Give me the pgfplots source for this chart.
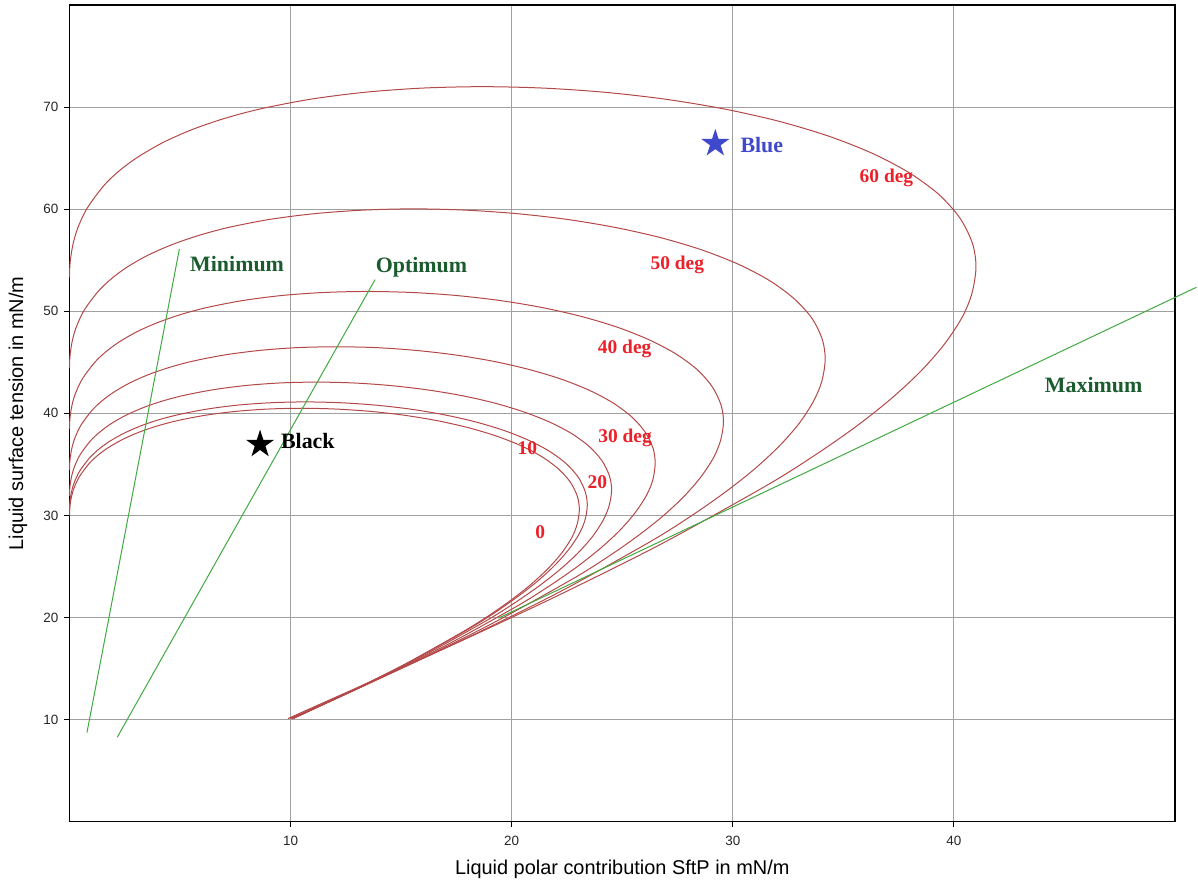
\documentclass[border=0pt]{standalone}
\usepackage{fontspec}
\setmainfont{Liberation Serif}
\setsansfont{Liberation Sans}
\usepackage{pgfplots}
\pgfplotsset{compat=1.18}

\definecolor{envcol}{RGB}{180,72,72}
\definecolor{linegreen}{RGB}{64,170,64}
\definecolor{textgreen}{RGB}{26,92,46}
\definecolor{labelred}{RGB}{235,32,40}
\definecolor{starblue}{RGB}{64,72,204}
\definecolor{gridgray}{RGB}{160,160,160}

% filled five-pointed star
\pgfdeclareplotmark{fstar}{%
  \pgfpathmoveto{\pgfpointpolar{90}{\pgfplotmarksize}}%
  \pgfpathlineto{\pgfpointpolar{126}{0.382\pgfplotmarksize}}%
  \pgfpathlineto{\pgfpointpolar{162}{\pgfplotmarksize}}%
  \pgfpathlineto{\pgfpointpolar{198}{0.382\pgfplotmarksize}}%
  \pgfpathlineto{\pgfpointpolar{234}{\pgfplotmarksize}}%
  \pgfpathlineto{\pgfpointpolar{270}{0.382\pgfplotmarksize}}%
  \pgfpathlineto{\pgfpointpolar{306}{\pgfplotmarksize}}%
  \pgfpathlineto{\pgfpointpolar{342}{0.382\pgfplotmarksize}}%
  \pgfpathlineto{\pgfpointpolar{18}{\pgfplotmarksize}}%
  \pgfpathlineto{\pgfpointpolar{54}{0.382\pgfplotmarksize}}%
  \pgfpathclose
  \pgfusepathqfill}

\newcommand\degfont{\fontsize{19.5}{21}\selectfont\bfseries}
\newcommand\notefont{\fontsize{22}{24}\selectfont\bfseries}

\begin{document}
\begin{tikzpicture}
\useasboundingbox (-69.5bp,-61.3bp) rectangle (1128.5bp,821.7bp);
\begin{axis}[
  scale only axis,
  width=1105.5bp, height=816.7bp,
  xmin=0, xmax=50, ymin=0, ymax=80,
  xtick={10,20,30,40}, ytick={10,20,30,40,50,60,70},
  tick pos=left, tick align=outside,
  major tick length=5bp,
  every tick/.style={black, line width=0.8bp},
  grid=major,
  major grid style={gridgray, line width=1.1bp},
  axis line style={black, line width=1.1bp},
  clip=false,
  /pgf/number format/assume math mode=true,
  tick label style={font=\fontsize{13.5}{15}\selectfont\sffamily, text=black!85},
  yticklabel style={anchor=east, inner sep=0pt, xshift=-6bp},
  xticklabel style={anchor=north, inner sep=0pt, yshift=-9.5bp},
  xlabel={Liquid polar contribution SftP in mN/m},
  ylabel={Liquid surface tension in mN/m},
  label style={font=\fontsize{20}{22}\selectfont\sffamily},
  xlabel style={at={(axis description cs:0.5,0)}, anchor=center, yshift=-47.3bp},
  ylabel style={at={([xshift=-51.5bp]axis description cs:0,0.5)}, anchor=center, rotate=0},
  envelope/.style={envcol, line width=1bp, smooth, no markers},
]

% wetting envelopes, 0 to 60 deg
\addplot[envelope] coordinates {(0,30.00) (0.003,30.38) (0.024,30.98) (0.094,31.87) (0.211,32.72) (0.448,33.80) (0.878,35.06) (1.273,35.88) (1.745,36.63) (2.380,37.42) (3.115,38.13) (3.945,38.75) (4.866,39.28) (6.132,39.81) (7.508,40.19) (8.972,40.42) (10.50,40.50) (12.06,40.42) (13.63,40.19) (15.16,39.81) (16.64,39.28) (18.03,38.60) (19.29,37.79) (20.41,36.84) (21.36,35.76) (22.11,34.57) (22.65,33.27) (22.97,31.87) (23.06,30.56) (22.96,29.13) (22.72,27.84) (22.27,26.34) (21.65,24.81) (20.87,23.24) (19.94,21.66) (18.88,20.07) (17.70,18.49) (15.10,15.35) (12.62,12.67) (10.50,10.50) (10.10,10.10)};
\addplot[envelope] coordinates {(0,30.46) (0.003,30.84) (0.025,31.46) (0.095,32.35) (0.214,33.22) (0.454,34.32) (0.892,35.60) (1.293,36.43) (1.772,37.20) (2.417,38.00) (3.163,38.72) (4.006,39.35) (4.941,39.88) (6.226,40.42) (7.623,40.81) (9.110,41.04) (10.66,41.12) (12.25,41.04) (13.83,40.81) (15.40,40.42) (16.90,39.88) (18.30,39.20) (19.59,38.37) (20.73,37.40) (21.69,36.31) (22.45,35.10) (23.00,33.78) (23.32,32.36) (23.42,31.03) (23.32,29.58) (23.07,28.26) (22.61,26.75) (21.98,25.19) (21.19,23.60) (20.24,22.00) (19.17,20.38) (17.97,18.77) (15.33,15.59) (12.81,12.86) (10.66,10.66) (10.09,10.10)};
\addplot[envelope] coordinates {(0,31.89) (0.004,32.29) (0.026,32.94) (0.100,33.88) (0.224,34.78) (0.476,35.93) (0.934,37.27) (1.353,38.14) (1.855,38.95) (2.530,39.79) (3.311,40.54) (4.194,41.20) (5.173,41.76) (6.519,42.32) (7.982,42.73) (9.539,42.98) (11.16,43.06) (12.82,42.98) (14.49,42.73) (16.12,42.32) (17.69,41.76) (19.17,41.04) (20.51,40.17) (21.70,39.16) (22.71,38.02) (23.51,36.75) (24.08,35.37) (24.42,33.88) (24.52,32.49) (24.41,30.97) (24.15,29.59) (23.68,28.00) (23.02,26.37) (22.19,24.71) (21.20,23.03) (20.07,21.34) (18.82,19.65) (16.05,16.32) (13.42,13.46) (11.16,11.16) (10.09,10.10)};
\addplot[envelope] coordinates {(0,34.46) (0.004,34.89) (0.028,35.59) (0.108,36.60) (0.243,37.58) (0.514,38.83) (1.009,40.27) (1.462,41.21) (2.005,42.08) (2.734,42.99) (3.578,43.80) (4.532,44.51) (5.590,45.12) (7.044,45.73) (8.625,46.17) (10.31,46.44) (12.06,46.52) (13.85,46.44) (15.65,46.17) (17.42,45.73) (19.12,45.12) (20.71,44.34) (22.16,43.41) (23.45,42.32) (24.54,41.08) (25.40,39.71) (26.02,38.22) (26.39,36.61) (26.49,35.11) (26.38,33.46) (26.10,31.98) (25.58,30.26) (24.87,28.49) (23.97,26.70) (22.90,24.88) (21.68,23.06) (20.33,21.23) (17.34,17.63) (14.50,14.55) (12.06,12.06) (10.07,10.10)};
\addplot[envelope] coordinates {(0,38.48) (0.004,38.96) (0.031,39.73) (0.120,40.87) (0.271,41.96) (0.574,43.35) (1.127,44.96) (1.633,46.01) (2.238,46.98) (3.053,48.00) (3.995,48.90) (5.060,49.70) (6.240,50.38) (7.864,51.06) (9.629,51.55) (11.51,51.84) (13.47,51.94) (15.47,51.84) (17.47,51.55) (19.45,51.06) (21.34,50.38) (23.12,49.51) (24.75,48.46) (26.18,47.24) (27.39,45.87) (28.36,44.34) (29.05,42.67) (29.46,40.87) (29.58,39.19) (29.45,37.36) (29.14,35.70) (28.56,33.78) (27.77,31.81) (26.77,29.81) (25.57,27.78) (24.21,25.74) (22.70,23.71) (19.36,19.69) (16.19,16.24) (13.47,13.46) (11.43,11.45) (10.04,10.10)};
\addplot[envelope] coordinates {(0,44.46) (0.005,45.02) (0.036,45.92) (0.139,47.23) (0.313,48.49) (0.663,50.10) (1.302,51.96) (1.887,53.17) (2.587,54.30) (3.528,55.47) (4.617,56.51) (5.847,57.43) (7.212,58.22) (9.088,59.01) (11.13,59.57) (13.30,59.91) (15.56,60.03) (17.88,59.91) (20.19,59.57) (22.47,59.01) (24.66,58.22) (26.72,57.22) (28.60,56.01) (30.26,54.60) (31.66,53.01) (32.77,51.24) (33.58,49.31) (34.05,47.23) (34.18,45.29) (34.03,43.17) (33.67,41.26) (33.01,39.04) (32.09,36.77) (30.93,34.45) (29.55,32.11) (27.98,29.75) (26.24,27.40) (22.38,22.75) (18.71,18.77) (15.56,15.56) (13.20,13.23) (11.04,11.13) (9.97,10.10)};
\addplot[envelope] coordinates {(0,53.33) (0.006,54.00) (0.043,55.08) (0.167,56.65) (0.375,58.16) (0.796,60.09) (1.562,62.33) (2.263,63.78) (3.103,65.12) (4.231,66.53) (5.537,67.79) (7.014,68.89) (8.650,69.83) (10.90,70.77) (13.35,71.45) (15.95,71.86) (18.67,72.00) (21.44,71.86) (24.22,71.45) (26.96,70.77) (29.58,69.83) (32.05,68.63) (34.30,67.18) (36.29,65.49) (37.97,63.58) (39.31,61.46) (40.27,59.14) (40.84,56.65) (41.00,54.33) (40.82,51.78) (40.39,49.48) (39.59,46.83) (38.49,44.10) (37.10,41.32) (35.45,38.51) (33.56,35.68) (31.47,32.86) (26.84,27.29) (22.44,22.52) (18.67,18.66) (15.84,15.87) (13.24,13.35) (11.27,11.45) (9.88,10.10)};

% reference lines
\addplot[linegreen, line width=1bp] coordinates {(0.79,8.73) (4.97,56.1)};
\addplot[linegreen, line width=1bp] coordinates {(2.16,8.27) (13.82,53.1)};
\addplot[linegreen, line width=1bp] coordinates {(19.4,19.94) (50.97,52.35)};

% liquids
\addplot[only marks, mark=fstar, mark size=14.7bp, color=starblue] coordinates {(29.21,66.43)};
\addplot[only marks, mark=fstar, mark size=14.7bp, color=black] coordinates {(8.62,36.96)};

% angle labels
\node[font=\degfont, text=labelred, anchor=base, inner sep=0pt] at (axis cs:36.95,62.59) {60 deg};
\node[font=\degfont, text=labelred, anchor=base, inner sep=0pt] at (axis cs:27.49,54.10) {50 deg};
\node[font=\degfont, text=labelred, anchor=base, inner sep=0pt] at (axis cs:25.11,45.89) {40 deg};
\node[font=\degfont, text=labelred, anchor=base, inner sep=0pt] at (axis cs:25.13,37.14) {30 deg};
\node[font=\degfont, text=labelred, anchor=base, inner sep=0pt] at (axis cs:23.87,32.64) {20};
\node[font=\degfont, text=labelred, anchor=base, inner sep=0pt] at (axis cs:20.71,35.96) {10};
\node[font=\degfont, text=labelred, anchor=base, inner sep=0pt] at (axis cs:21.29,27.71) {0};

% line and liquid labels
\node[font=\notefont, text=textgreen, anchor=base, inner sep=0pt] at (axis cs:7.58,53.94) {Minimum};
\node[font=\notefont, text=textgreen, anchor=base, inner sep=0pt] at (axis cs:15.92,53.78) {Optimum};
\node[font=\notefont, text=textgreen, anchor=base, inner sep=0pt] at (axis cs:46.32,42.02) {Maximum};
\node[font=\notefont, text=starblue, anchor=base west, inner sep=0pt] at (axis cs:30.34,65.58) {Blue};
\node[font=\notefont, text=black, anchor=base west, inner sep=0pt] at (axis cs:9.56,36.59) {Black};
\end{axis}
\end{tikzpicture}
\end{document}
